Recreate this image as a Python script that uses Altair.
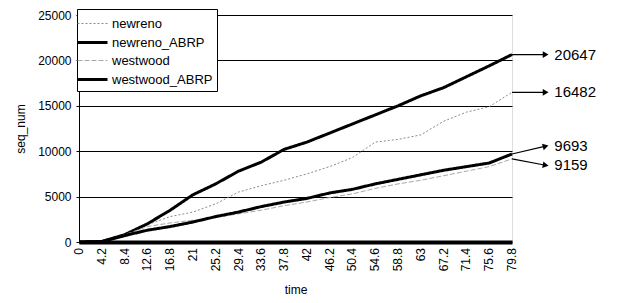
import altair as alt
import pandas as pd

# ---- data ----
time = [0, 4.2, 8.4, 12.6, 16.8, 21, 25.2, 29.4, 33.6, 37.8, 42, 46.2,
        50.4, 54.6, 58.8, 63, 67.2, 71.4, 75.6, 79.8]
time_labels = ["0", "4.2", "8.4", "12.6", "16.8", "21", "25.2", "29.4", "33.6", "37.8",
               "42", "46.2", "50.4", "54.6", "58.8", "63", "67.2", "71.4", "75.6", "79.8"]
newreno = [0, 100, 800, 1900, 2800, 3300, 4200, 5500, 6200, 6800, 7500, 8300,
           9300, 11000, 11300, 11800, 13300, 14300, 14900, 16482]
newreno_abrp = [0, 50, 800, 2000, 3500, 5200, 6400, 7800, 8800, 10200, 11000, 12000,
                13000, 14000, 15000, 16100, 17000, 18200, 19400, 20647]
westwood = [0, 50, 800, 1700, 2100, 2400, 2700, 3100, 3500, 4000, 4400, 4900,
            5300, 5900, 6400, 6800, 7300, 7800, 8300, 9159]
westwood_abrp = [0, 50, 700, 1300, 1700, 2200, 2800, 3300, 3900, 4400, 4800, 5400,
                 5800, 6400, 6900, 7400, 7900, 8300, 8700, 9693]
series_names = ["newreno", "newreno_ABRP", "westwood", "westwood_ABRP"]
y_ticks = [0, 5000, 10000, 15000, 20000, 25000]

# end-of-line annotations
annot_series = ["newreno_ABRP", "newreno", "westwood_ABRP", "westwood"]
annot_values = [20647, 16482, 9693, 9159]
annot_tip_y = [20647, 16482, 10550, 8450]
annot_angle = [0, 0, 345, 11]
ARROW_X = 86.0
TEXT_X = 87.6

rows = []
for name, vals in zip(series_names, [newreno, newreno_abrp, westwood, westwood_abrp]):
    for t, v in zip(time, vals):
        rows.append({"time": t, "seq_num": v, "series": name})
df = pd.DataFrame(rows)

tdf = pd.DataFrame({"time": time, "label": time_labels, "zero": [0] * len(time)})

adf = pd.DataFrame({
    "series": annot_series,
    "value": annot_values,
    "tip": annot_tip_y,
    "angle": annot_angle,
    "t_end": [time[-1]] * 4,
    "t_arrow": [ARROW_X] * 4,
    "t_text": [TEXT_X] * 4,
    "label": [str(v) for v in annot_values],
})

xscale = alt.Scale(domain=[0, 79.8], nice=False, zero=False)
yscale = alt.Scale(domain=[0, 25000], nice=False)

lines = alt.Chart(df).mark_line(strokeJoin="round").encode(
    x=alt.X("time:Q", scale=xscale,
            axis=alt.Axis(values=time, labels=False, title="time",
                          grid=False, domainWidth=4, domainColor="black",
                          ticks=False, titleFontSize=12,
                          titleFontWeight="normal", titleColor="black",
                          titlePadding=42)),
    y=alt.Y("seq_num:Q", scale=yscale,
            axis=alt.Axis(values=y_ticks, format="d", title="seq_num",
                          grid=True, gridColor="black", gridWidth=1,
                          domainColor="black", tickColor="black", tickSize=3,
                          labelFontSize=12, labelPadding=5, labelColor="black",
                          titleFontSize=12, titleFontWeight="normal",
                          titleColor="black", titlePadding=10)),
    color=alt.Color("series:N", scale=alt.Scale(domain=series_names,
                    range=["#8a8a8a", "black", "#a8a8a8", "black"]),
                    legend=alt.Legend(title=None, orient="none", legendX=-2, legendY=-6,
                                      strokeColor="black", fillColor="white",
                                      padding=4, labelFontSize=13, labelColor="black",
                                      symbolType="M-1.5,0H1.5", symbolSize=400,
                                      rowPadding=0, labelOffset=8)),
    strokeDash=alt.StrokeDash("series:N", scale=alt.Scale(domain=series_names,
                              range=[[2, 2], [1, 0], [5, 2], [1, 0]]), legend=None),
    strokeWidth=alt.StrokeWidth("series:N", scale=alt.Scale(type="ordinal",
                                domain=series_names, range=[1, 3, 1, 3]), legend=None),
    detail="series:N",
)

xlabels = alt.Chart(tdf).mark_text(angle=270, align="right", baseline="middle",
                                   fontSize=12, color="black", yOffset=6).encode(
    x=alt.X("time:Q", scale=xscale),
    y=alt.Y("zero:Q", scale=yscale),
    text="label:N",
)

rules = alt.Chart(adf).mark_rule(color="black", strokeWidth=1.2).encode(
    x=alt.X("t_end:Q", scale=xscale),
    x2="t_arrow:Q",
    y=alt.Y("value:Q", scale=yscale),
    y2="tip:Q",
)

heads = alt.Chart(adf).mark_point(shape="triangle-right", filled=True,
                                  color="black", size=45, opacity=1).encode(
    x=alt.X("t_arrow:Q", scale=xscale),
    y=alt.Y("tip:Q", scale=yscale),
    angle=alt.Angle("angle:Q", scale=None),
)

texts = alt.Chart(adf).mark_text(align="left", baseline="middle", fontSize=15,
                                 color="black").encode(
    x=alt.X("t_text:Q", scale=xscale),
    y=alt.Y("tip:Q", scale=yscale),
    text="label:N",
)

chart = alt.layer(lines, xlabels, rules, heads, texts).properties(
    width=433, height=227,
    autosize=alt.AutoSizeParams(type="none"),
    padding={"left": 71, "top": 7, "right": 100, "bottom": 60},
    background="white",
).configure_view(stroke=None).configure(font="Liberation Sans")

chart.save("out.html", embed_options={"renderer": "svg", "actions": False})
